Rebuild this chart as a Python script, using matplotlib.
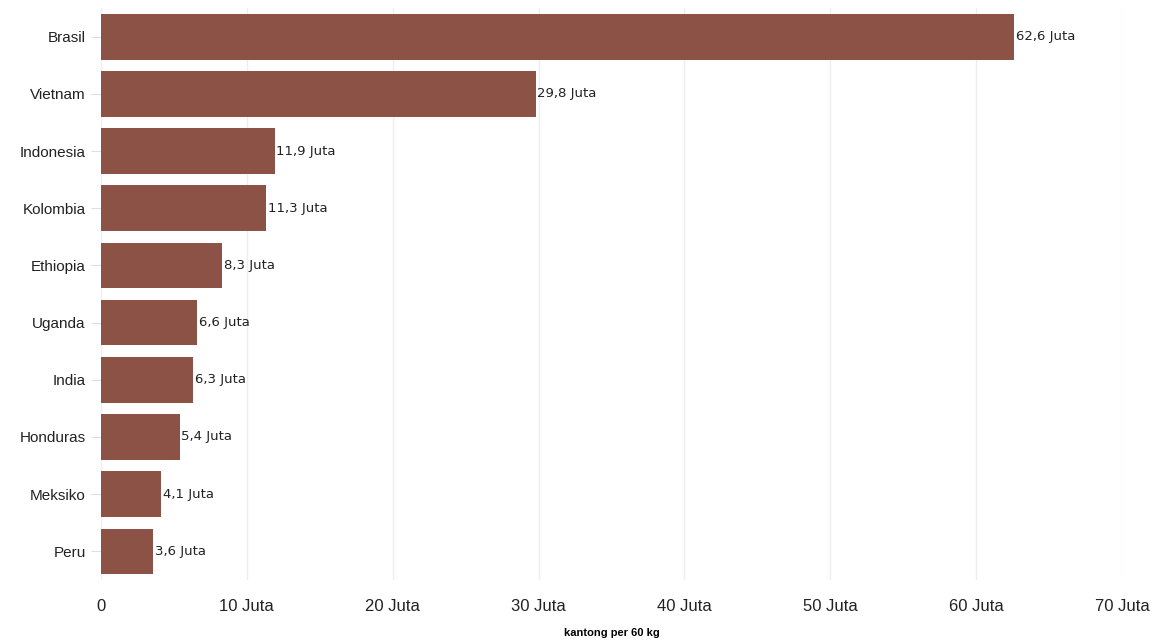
import matplotlib
matplotlib.use("Agg")
import matplotlib.pyplot as plt

countries = ["Brasil", "Vietnam", "Indonesia", "Kolombia", "Ethiopia",
             "Uganda", "India", "Honduras", "Meksiko", "Peru"]
production = [62.6, 29.8, 11.9, 11.3, 8.3, 6.6, 6.3, 5.4, 4.1, 3.6]
value_labels = ["62,6 Juta", "29,8 Juta", "11,9 Juta", "11,3 Juta", "8,3 Juta",
                "6,6 Juta", "6,3 Juta", "5,4 Juta", "4,1 Juta", "3,6 Juta"]
xticks = [0, 10, 20, 30, 40, 50, 60, 70]
xtick_labels = ["0", "10 Juta", "20 Juta", "30 Juta", "40 Juta",
                "50 Juta", "60 Juta", "70 Juta"]

bar_color = "#8b5245"

fig = plt.figure(figsize=(11.58, 6.42), dpi=100)
ax = fig.add_axes([0.0872, 0.0966, 0.8817, 0.8909])

ypos = list(range(len(countries)))
ax.barh(ypos, production, height=0.8, color=bar_color, zorder=2)

for y, v, lab in zip(ypos, production, value_labels):
    ax.text(v + 0.12, y, lab, va="center", ha="left",
            fontsize=9.5, family="DejaVu Sans", color="#222222", zorder=3)

ax.set_ylim(len(countries) - 0.5, -0.5)
ax.set_xlim(0, 70)
ax.set_yticks(ypos)
ax.set_yticklabels(countries, fontsize=11, family="Liberation Sans", color="#222222")
ax.set_xticks(xticks)
ax.set_xticklabels(xtick_labels, fontsize=12, family="Liberation Sans", color="#222222")

ax.tick_params(axis="x", length=0, pad=14)
ax.tick_params(axis="y", length=7, color="#dddddd", pad=4)
ax.grid(axis="x", color="#eeeeee", linewidth=1, zorder=0)
for s in ax.spines.values():
    s.set_visible(False)

ax.set_xlabel("kantong per 60 kg", fontsize=8, fontweight="bold",
              family="Liberation Sans", va="center")
ax.xaxis.set_label_coords(0.5, -0.093)

fig.savefig("out.png", dpi=100)
